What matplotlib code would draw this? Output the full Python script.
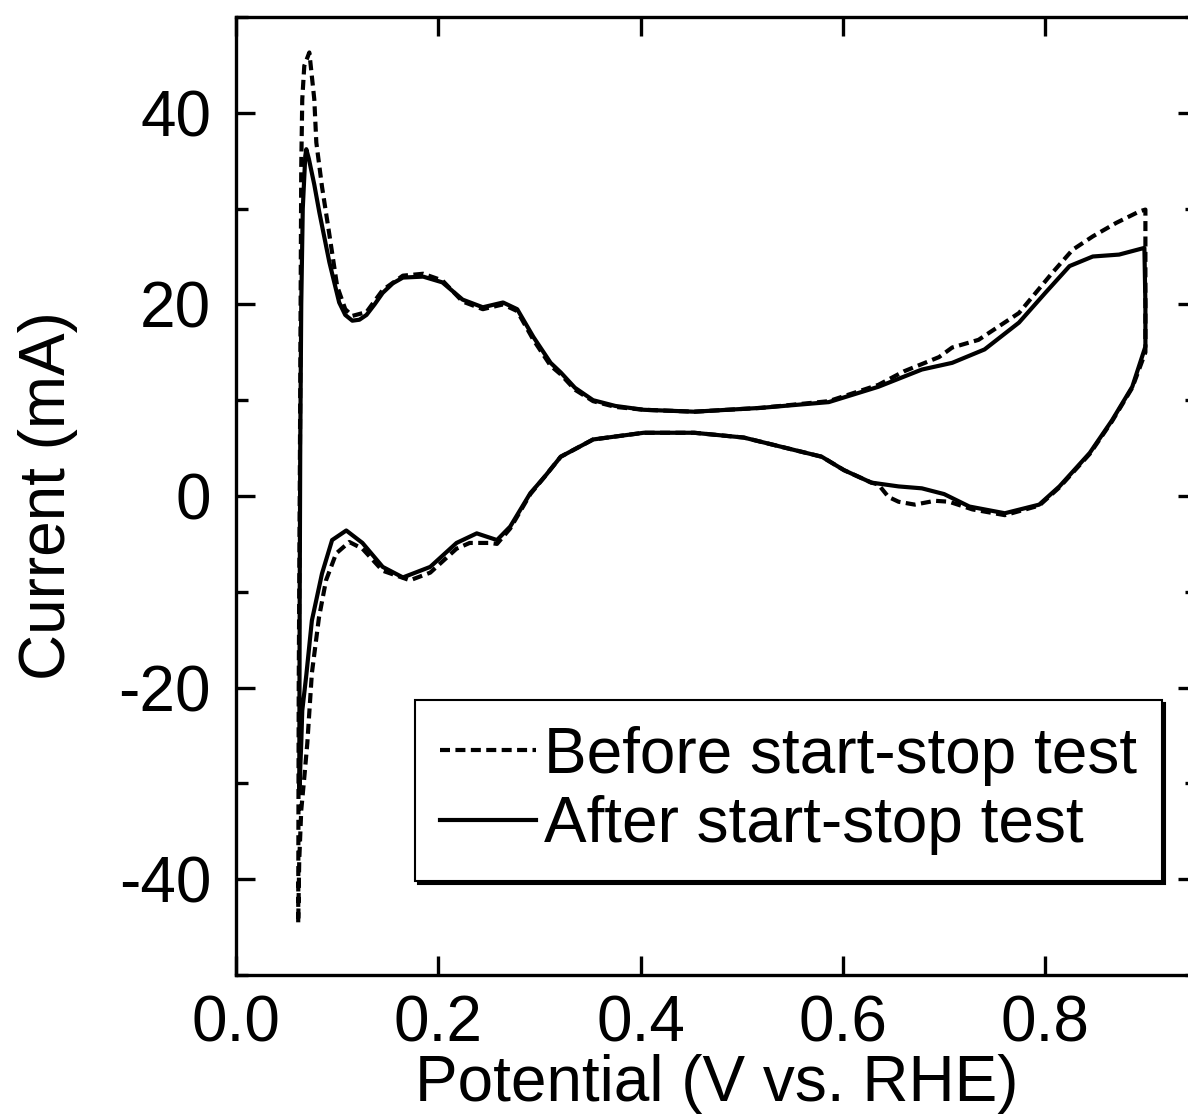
import numpy as np
import matplotlib
matplotlib.use("Agg")
import matplotlib.pyplot as plt
from matplotlib.ticker import MultipleLocator

plt.rcParams['font.family'] = ['Liberation Sans', 'DejaVu Sans']
plt.rcParams['axes.unicode_minus'] = False

# CV loops, potential in V vs. RHE, current in mA
# "After" (solid) - anodic sweep, then cathodic sweep back
after_v = [0.0625, 0.063, 0.0635, 0.0645, 0.066, 0.0685, 0.0695, 0.072, 0.0774, 0.0824,
           0.0923, 0.102, 0.108, 0.115, 0.122, 0.129, 0.137, 0.145, 0.155, 0.165,
           0.185, 0.204, 0.224, 0.244, 0.264, 0.278, 0.294, 0.311, 0.321, 0.335,
           0.353, 0.375, 0.403, 0.453, 0.519, 0.586, 0.635, 0.678, 0.708, 0.740,
           0.774, 0.800, 0.824, 0.847, 0.873, 0.898, 0.899, 0.899, 0.886, 0.866,
           0.844, 0.814, 0.794, 0.760, 0.725, 0.700, 0.678, 0.655, 0.628, 0.601,
           0.579, 0.552, 0.502, 0.453, 0.403, 0.353, 0.321, 0.305, 0.291, 0.271,
           0.258, 0.238, 0.218, 0.192, 0.165, 0.145, 0.125, 0.109, 0.095, 0.085,
           0.075, 0.0695, 0.0655, 0.0645, 0.0625]
after_i = [-31.0, -10.0, 5.0, 20.0, 30.0, 35.5, 36.2, 35.2, 32.5, 29.6,
           24.4, 20.2, 18.9, 18.3, 18.4, 18.9, 20.0, 21.2, 22.2, 22.8,
           22.9, 22.3, 20.5, 19.7, 20.2, 19.5, 16.6, 13.9, 12.9, 11.3,
           10.0, 9.4, 9.0, 8.8, 9.2, 9.8, 11.4, 13.2, 13.9, 15.3,
           18.1, 21.2, 24.0, 25.0, 25.2, 25.9, 20.0, 15.6, 11.4, 7.9,
           4.5, 1.0, -0.9, -1.8, -1.1, 0.2, 0.8, 1.0, 1.4, 2.7,
           4.1, 4.8, 6.1, 6.6, 6.6, 5.9, 4.1, 2.0, 0.3, -3.2,
           -4.6, -3.9, -4.9, -7.4, -8.5, -7.4, -4.9, -3.6, -4.6, -8.1,
           -13.0, -18.7, -22.4, -25.8, -31.0]

# "Before" (dashed)
before_v = [0.0615, 0.062, 0.063, 0.0645, 0.0655, 0.0675, 0.0725, 0.0774, 0.0794, 0.085,
            0.092, 0.100, 0.108, 0.115, 0.129, 0.145, 0.165, 0.185, 0.204, 0.224,
            0.244, 0.264, 0.278, 0.294, 0.311, 0.321, 0.335, 0.353, 0.375, 0.403,
            0.453, 0.519, 0.586, 0.635, 0.660, 0.695, 0.708, 0.734, 0.774, 0.807,
            0.827, 0.847, 0.870, 0.893, 0.899, 0.899, 0.899, 0.886, 0.866, 0.844,
            0.814, 0.794, 0.760, 0.728, 0.705, 0.691, 0.671, 0.655, 0.645, 0.635,
            0.628, 0.601, 0.579, 0.552, 0.502, 0.453, 0.403, 0.353, 0.321, 0.305,
            0.291, 0.271, 0.258, 0.251, 0.231, 0.218, 0.192, 0.172, 0.145, 0.125,
            0.112, 0.099, 0.089, 0.082, 0.075, 0.0705, 0.0675, 0.0645, 0.0625, 0.0615]
before_i = [-44.5, -20.0, 0.0, 34.4, 41.4, 44.9, 46.3, 41.4, 36.9, 32.3,
            27.5, 21.9, 19.5, 18.8, 19.2, 21.5, 23.0, 23.2, 22.5, 20.3,
            19.5, 20.0, 19.3, 16.3, 13.6, 12.7, 11.1, 9.9, 9.3, 9.0,
            8.8, 9.2, 9.9, 11.6, 13.0, 14.5, 15.5, 16.3, 19.1, 23.3,
            25.7, 27.1, 28.5, 29.7, 29.9, 22.0, 15.0, 11.3, 7.8, 4.4,
            0.9, -1.0, -2.0, -1.4, -0.6, -0.5, -0.9, -0.6, -0.1, 1.2,
            1.4, 2.7, 4.1, 4.8, 6.1, 6.6, 6.6, 5.9, 4.1, 2.0,
            0.2, -3.4, -5.0, -4.9, -4.9, -5.5, -8.0, -8.8, -7.8, -5.5,
            -4.8, -6.0, -8.8, -12.7, -18.5, -25.8, -29.4, -32.8, -38.1, -44.5]

labels = ['Before start-stop test', 'After start-stop test']

fig = plt.figure(figsize=(11.88, 11.15), dpi=100)
ax = fig.add_axes([236 / 1188, 140 / 1115, (1197 - 236) / 1188, (975 - 17) / 1115])

ax.plot(before_v, before_i, color='black', lw=3.0, dashes=(2.4, 1.3), label=labels[0])
ax.plot(after_v, after_i, color='black', lw=3.0, label=labels[1])

ax.set_xlim(0.0, 0.95)
ax.set_ylim(-50, 50)
ax.set_xticks([0.0, 0.2, 0.4, 0.6, 0.8])
ax.set_xticklabels(['0.0', '0.2', '0.4', '0.6', '0.8'])
ax.yaxis.set_major_locator(MultipleLocator(20))
ax.yaxis.set_minor_locator(MultipleLocator(10))

for s in ax.spines.values():
    s.set_linewidth(2.4)
ax.tick_params(which='both', direction='in', top=True, right=True, width=2.4, labelsize=46)
ax.tick_params(which='major', length=14)
ax.tick_params(which='minor', length=8.5)
ax.tick_params(axis='x', pad=14)
ax.tick_params(axis='y', pad=18)

ax.set_xlabel('Potential (V vs. RHE)', fontsize=46, labelpad=0)
ax.set_ylabel('Current (mA)', fontsize=46, labelpad=29)

leg = ax.legend(loc='upper left', bbox_to_anchor=(0.186, 0.287), borderaxespad=0,
                fontsize=46, frameon=True, fancybox=False, handlelength=1.5,
                handletextpad=0.12, labelspacing=0.15, borderpad=0.4,
                shadow={'color': 'black', 'alpha': 1.0})
leg.get_frame().set_edgecolor('black')
leg.get_frame().set_linewidth(1.5)

fig.savefig('out.png', dpi=100)
